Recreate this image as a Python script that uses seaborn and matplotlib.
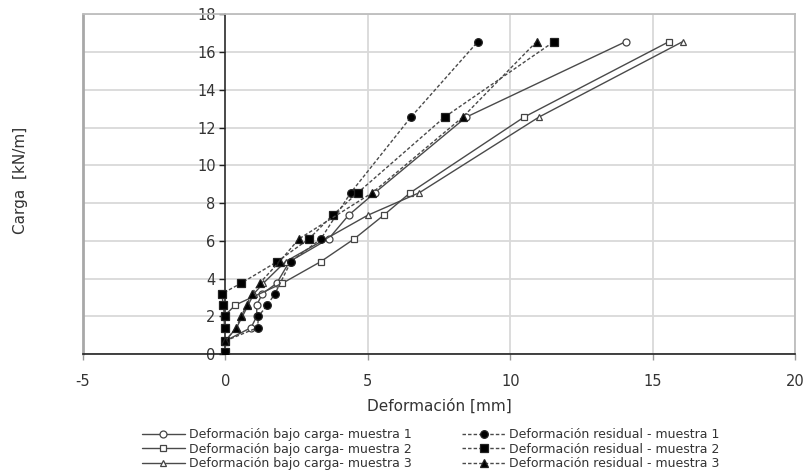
import matplotlib
matplotlib.use("Agg")
import matplotlib.pyplot as plt
import seaborn as sns
from matplotlib.lines import Line2D

# ---- data ----
carga_bajo_m1 = [0.7, 1.4, 2.0, 2.6, 3.2, 3.75, 4.9, 6.1, 7.35, 8.55, 12.55, 16.55]
def_bajo_m1 = [0.0, 0.9, 1.1, 1.1, 1.3, 1.8, 2.25, 3.62, 4.32, 5.25, 8.45, 14.05]

carga_bajo_m2 = [0.7, 2.0, 2.6, 3.75, 4.9, 6.1, 7.35, 8.55, 12.55, 16.55]
def_bajo_m2 = [0.0, -0.05, 0.35, 2.0, 3.35, 4.52, 5.55, 6.49, 10.48, 15.57]

carga_bajo_m3 = [0.7, 1.4, 2.0, 2.6, 3.2, 3.75, 4.9, 7.35, 8.55, 12.55, 16.55]
def_bajo_m3 = [0.0, 0.39, 0.6, 0.8, 1.0, 1.33, 2.11, 4.99, 6.81, 11.0, 16.05]

carga_res_m1 = [0.7, 1.4, 2.0, 2.6, 3.2, 4.9, 6.1, 8.55, 12.55, 16.55]
def_res_m1 = [0.0, 1.13, 1.16, 1.47, 1.74, 2.3, 3.35, 4.4, 6.51, 8.86]

carga_res_m2 = [0.1, 0.7, 1.4, 2.0, 2.6, 3.2, 3.75, 4.9, 6.1, 7.35, 8.55, 12.55, 16.55]
def_res_m2 = [0.0, 0.0, -0.03, -0.03, -0.08, -0.12, 0.55, 1.82, 2.93, 3.76, 4.65, 7.69, 11.53]

carga_res_m3 = [0.7, 1.4, 2.0, 2.6, 3.2, 3.75, 4.9, 6.1, 8.55, 12.55, 16.55]
def_res_m3 = [0.0, 0.38, 0.55, 0.75, 0.92, 1.2, 1.9, 2.58, 5.16, 8.33, 10.92]

labels = [
    "Deformación bajo carga- muestra 1",
    "Deformación bajo carga- muestra 2",
    "Deformación bajo carga- muestra 3",
    "Deformación residual - muestra 1",
    "Deformación residual - muestra 2",
    "Deformación residual - muestra 3",
]
x_ticks = [-5, 0, 5, 10, 15, 20]
y_ticks = [0, 2, 4, 6, 8, 10, 12, 14, 16, 18]

sns.set_style("white")
plt.rcParams['font.family'] = ['DejaVu Sans']
plt.rcParams['axes.unicode_minus'] = False

fig = plt.figure(figsize=(8.05, 4.74), dpi=100)
ax = fig.add_axes([0.103, 0.253, 0.885, 0.717])

series = [
    (def_bajo_m1, carga_bajo_m1, 'o', 'white', '-'),
    (def_bajo_m2, carga_bajo_m2, 's', 'white', '-'),
    (def_bajo_m3, carga_bajo_m3, '^', 'white', '-'),
    (def_res_m1, carga_res_m1, 'o', 'black', (0, (2.5, 1.5))),
    (def_res_m2, carga_res_m2, 's', 'black', (0, (2.5, 1.5))),
    (def_res_m3, carga_res_m3, '^', 'black', (0, (2.5, 1.5))),
]
line_col = '#4a4a4a'
for (xs, ys, mk, fc, ls), lab in zip(series, labels):
    sns.lineplot(x=xs, y=ys, ax=ax, sort=False, estimator=None,
                 color=line_col, linestyle=ls, linewidth=1.0,
                 marker=mk, markersize=5.5 if fc == 'black' else 5,
                 markerfacecolor=fc, markeredgecolor='#222222' if fc == 'black' else '#444444',
                 markeredgewidth=0.9, label=lab, zorder=3)

ax.set_xlim(-5, 20)
ax.set_ylim(0, 18)
ax.set_xticks(x_ticks)
ax.set_yticks(y_ticks)
ax.grid(True, color='#d9d9d9', linewidth=1.3, zorder=0)
ax.set_axisbelow(True)

# spines
ax.spines['left'].set_position(('data', 0))
ax.spines['left'].set_color('#222222')
ax.spines['left'].set_linewidth(1.1)
ax.spines['bottom'].set_color('#222222')
ax.spines['bottom'].set_linewidth(1.2)
for s in ['top', 'right']:
    ax.spines[s].set_visible(True)
    ax.spines[s].set_color('#bdbdbd')
    ax.spines[s].set_linewidth(1.3)
ax.add_line(Line2D([0, 0], [0, 1], transform=ax.transAxes, color='#a8a8a8',
                   linewidth=2.0, clip_on=False, zorder=1))

ax.tick_params(axis='y', direction='out', length=4, width=1, color='#222222',
               labelsize=10.5, labelcolor='#333333', pad=3, left=True)
ax.tick_params(axis='x', direction='out', length=4, width=1, color='#999999',
               labelsize=10.5, labelcolor='#333333', pad=10, bottom=True)

ax.set_xlabel("Deformación [mm]", fontsize=11, color='#333333', labelpad=7)
ax.set_ylabel("")
fig.text(0.026, 0.62, "Carga  [kN/m]", rotation=90, ha='center', va='center',
         fontsize=11, color='#333333')

handles, labs = ax.get_legend_handles_labels()
if ax.get_legend() is not None:
    ax.get_legend().remove()
fig.legend(handles, labs, ncol=2, loc='upper center', bbox_to_anchor=(0.535, 0.12),
           frameon=False, fontsize=9, handlelength=3.5, labelspacing=0.12,
           columnspacing=4.0, handletextpad=0.3, labelcolor='#333333')

fig.savefig("out.png", dpi=100)
